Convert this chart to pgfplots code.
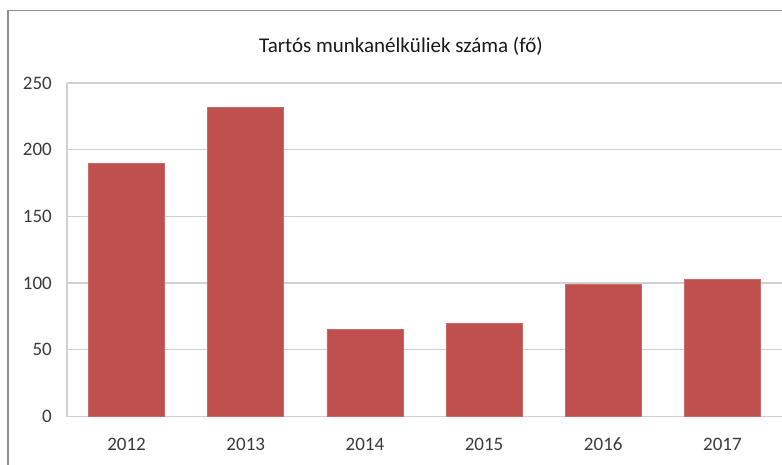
\documentclass[border=0pt]{standalone}
\usepackage{fontspec}
\setmainfont{Carlito}
\usepackage{pgfplots}
\pgfplotsset{compat=1.18}

\definecolor{barred}{HTML}{C0504D}
\definecolor{gridgray}{HTML}{D0D0D0}
\definecolor{framegray}{HTML}{909090}
\definecolor{labelgray}{HTML}{3A3A3A}

\begin{document}
\begin{tikzpicture}[x=1pt,y=1pt]
\clip (0,0) rectangle (782,464);
% chart frame, cut off on the right and at the bottom
\draw[framegray, line width=1.6pt] (8,-20) -- (8,453.5) -- (800,453.5);
\node[text=black!90, font=\fontsize{21}{24}\selectfont] at (401,418) {Tartós munkanélküliek száma (fő)};
% the plot area runs on past the right edge of the page, as in the cropped original
\begin{axis}[
  at={(67pt,47.5pt)}, anchor=south west,
  scale only axis, width=723pt, height=333.5pt,
  ybar, bar width=76pt, bar shift=0pt,
  xmin=-0.5, xmax=5.5671, ymin=0, ymax=250,
  xtick={0,1,2,3,4,5},
  xticklabels={2012,2013,2014,2015,2016,2017},
  ytick={0,50,100,150,200,250},
  axis line style={draw=none},
  ymajorgrids, grid style={draw=gridgray, line width=1.3pt},
  major tick length=0pt,
  tick label style={text=labelgray, font=\fontsize{19}{21}\selectfont, inner sep=0pt},
  /pgf/number format/assume math mode=true,
  yticklabel shift=15pt,
  xticklabel shift=21pt,
  clip=false,
]
\draw[gridgray, line width=1.3pt] (rel axis cs:0,0) -- (rel axis cs:0,1);
\addplot[fill=barred, draw=barred!85!white, line width=0.6pt] coordinates {
  (0,190) (1,232) (2,65) (3,70) (4,99) (5,103)
};
\end{axis}
\end{tikzpicture}
\end{document}
